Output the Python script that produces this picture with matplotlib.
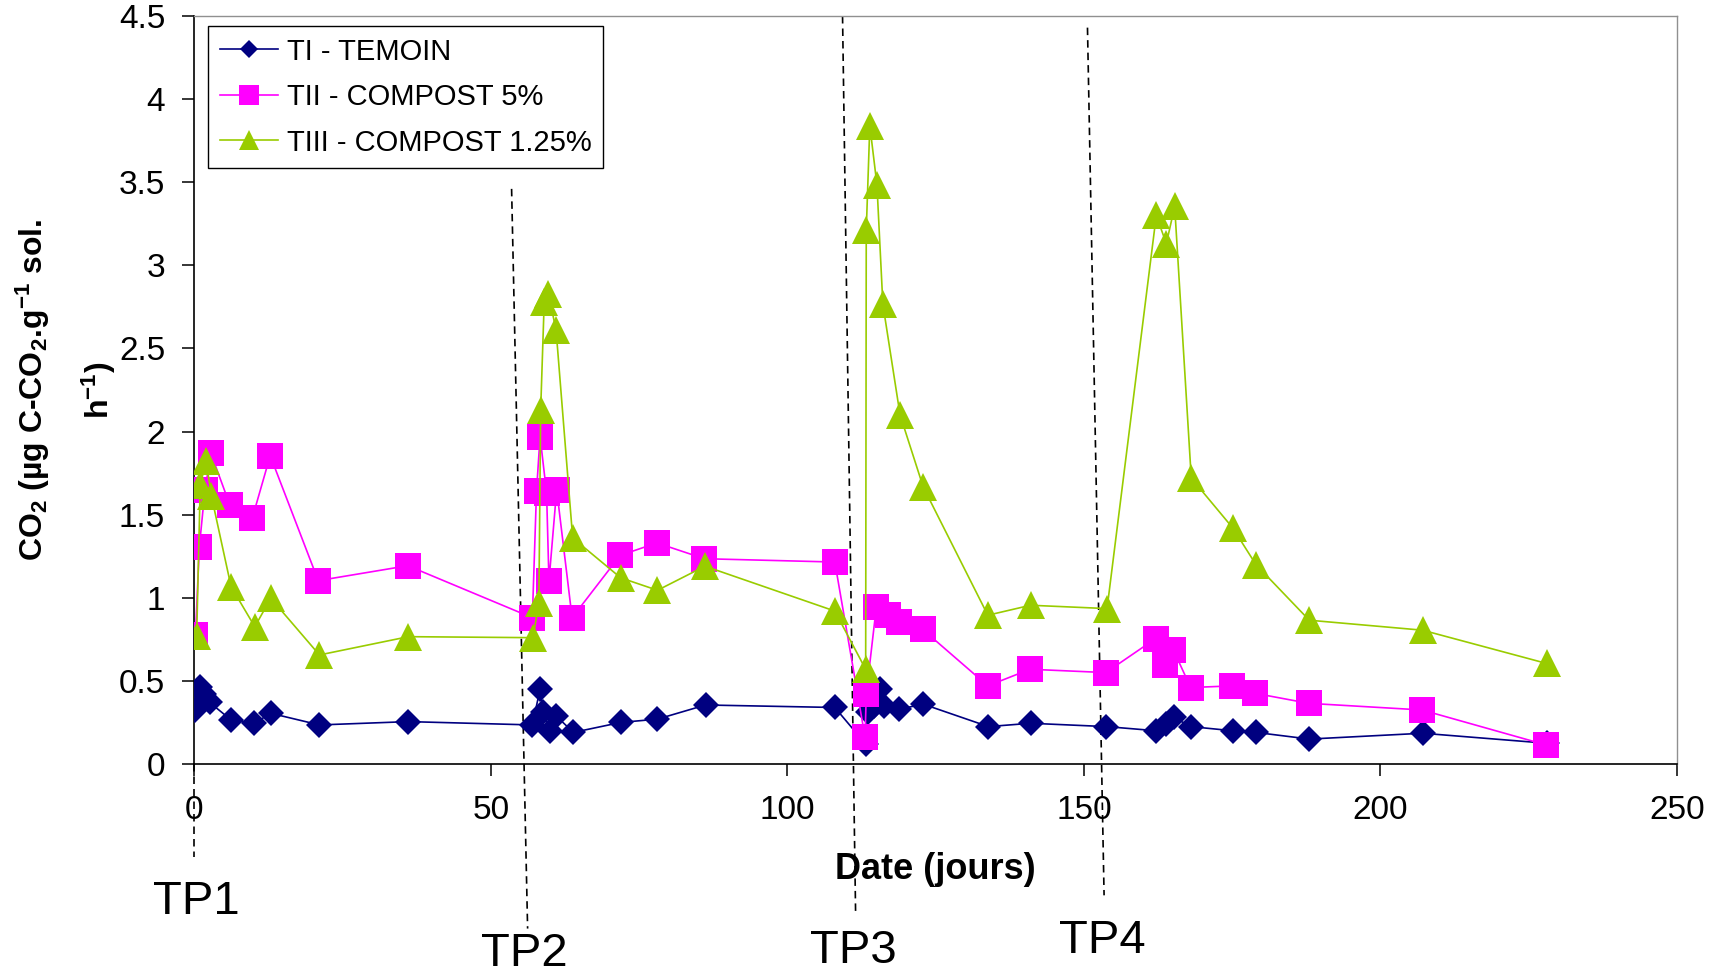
import numpy as np
import matplotlib.pyplot as plt

plt.rcParams['font.family'] = ['Liberation Sans', 'DejaVu Sans']
plt.rcParams['mathtext.fontset'] = 'custom'
plt.rcParams['mathtext.bf'] = 'Liberation Sans:bold'
plt.rcParams['mathtext.rm'] = 'Liberation Sans:bold'
plt.rcParams['mathtext.default'] = 'bf'

# TI - TEMOIN
days_t1 = [0.2, 1.0, 1.6, 2.6, 6.2, 10.1, 12.9, 21.1, 36.1, 57.0, 58.3, 58.8, 59.9, 61.0,
           63.9, 71.9, 78.1, 86.2, 108.0, 113.2, 113.6, 114.6, 115.6, 116.3, 118.9, 122.9,
           133.9, 141.0, 153.8, 162.2, 163.8, 165.2, 168.0, 175.1, 179.0, 188.0, 207.1, 228.0]
co2_t1 = [0.325, 0.465, 0.42, 0.37, 0.265, 0.245, 0.305, 0.235, 0.255, 0.235, 0.45, 0.31, 0.2, 0.29,
          0.19, 0.25, 0.27, 0.355, 0.34, 0.12, 0.31, 0.35, 0.45, 0.35, 0.33, 0.36,
          0.225, 0.245, 0.225, 0.2, 0.24, 0.28, 0.225, 0.2, 0.19, 0.15, 0.185, 0.125]

# TII - COMPOST 5%
days_t2 = [0.2, 0.85, 1.8, 2.8, 6.0, 9.8, 12.8, 20.9, 36.0, 57.0, 57.7, 58.3, 59.4, 59.8, 61.1,
           63.7, 71.8, 78.0, 86.0, 108.0, 113.1, 113.3, 115.0, 117.0, 118.9, 122.8, 133.8,
           140.9, 153.7, 162.1, 163.7, 165.1, 168.0, 175.0, 178.9, 187.9, 207.0, 227.9]
co2_t2 = [0.776, 1.307, 1.649, 1.869, 1.558, 1.482, 1.855, 1.103, 1.193, 0.88, 1.64, 1.97, 1.63, 1.10, 1.65,
          0.88, 1.255, 1.33, 1.235, 1.215, 0.16, 0.42, 0.945, 0.895, 0.855, 0.81, 0.47,
          0.57, 0.55, 0.755, 0.595, 0.685, 0.46, 0.47, 0.425, 0.365, 0.325, 0.115]

# TIII - COMPOST 1.25%
days_t3 = [0.4, 1.0, 2.0, 2.9, 6.2, 10.2, 12.9, 21.1, 36.1, 57.1, 58.1, 58.4, 59.0, 59.7, 61.0,
           63.8, 71.9, 78.1, 86.1, 108.0, 113.2, 113.3, 113.9, 115.1, 116.1, 119.0, 122.9,
           133.8, 141.0, 153.9, 162.2, 163.9, 165.3, 168.1, 175.1, 179.0, 188.0, 207.1, 228.0]
co2_t3 = [0.77, 1.68, 1.82, 1.61, 1.067, 0.826, 0.997, 0.656, 0.766, 0.76, 0.97, 2.13, 2.78, 2.83, 2.61,
          1.36, 1.12, 1.045, 1.19, 0.92, 0.57, 3.21, 3.84, 3.485, 2.766, 2.10, 1.667,
          0.895, 0.955, 0.935, 3.30, 3.13, 3.355, 1.72, 1.42, 1.20, 0.865, 0.805, 0.605]

labels = ['TI - TEMOIN', 'TII - COMPOST 5%', 'TIII - COMPOST 1.25%']

# sampling periods (dashed markers drawn below the axis)
tp_names = ['TP1', 'TP2', 'TP3', 'TP4']
tp_line_x = [(0.0, 0.0), (53.5, 56.2), (109.3, 111.5), (150.6, 153.4)]
tp_line_y = [(0.0, -0.56), (3.46, -0.99), (4.5, -0.89), (4.43, -0.79)]
tp_label_x = [0.4, 55.7, 111.2, 153.1]
tp_label_y = [-0.90, -1.215, -1.20, -1.14]

fig = plt.figure(figsize=(17.23, 9.74), dpi=100)
ax = fig.add_axes([194.3 / 1723, 1 - 764 / 974, (1677 - 194.3) / 1723, 748 / 974])

ax.plot(days_t1, co2_t1, color='#000080', lw=1.2, marker='D', ms=13, mew=0,
        label=labels[0], zorder=3)
ax.plot(days_t2, co2_t2, color='#FF00FF', lw=1.2, marker='s', ms=18.5, mew=0,
        label=labels[1], zorder=4)
ax.plot(days_t3, co2_t3, color='#99CC00', lw=1.2, marker='^', ms=19.5, mew=0,
        label=labels[2], zorder=5)

for name, lx, ly, tx, ty in zip(tp_names, tp_line_x, tp_line_y, tp_label_x, tp_label_y):
    ax.plot(lx, ly, color='black', lw=1.2, ls=(0, (4.5, 3)), clip_on=False, zorder=2)
    ax.text(tx, ty, name, fontsize=34, ha='center', va='baseline', clip_on=False)

ax.set_xlim(0, 250)
ax.set_ylim(0, 4.5)
ax.set_xticks(np.arange(0, 251, 50))
ax.set_yticks(np.arange(0, 4.51, 0.5))
ax.set_yticklabels(['0', '0.5', '1', '1.5', '2', '2.5', '3', '3.5', '4', '4.5'])

for s in ['top', 'right']:
    ax.spines[s].set_color('#909090')
    ax.spines[s].set_linewidth(1.0)
for s in ['left', 'bottom']:
    ax.spines[s].set_color('black')
    ax.spines[s].set_linewidth(1.2)

ax.tick_params(direction='out', length=8.5, width=1.1, labelsize=24)
ax.tick_params(axis='x', pad=14)
ax.tick_params(axis='y', pad=12.5)

ax.set_xlabel('Date (jours)', fontsize=26, fontweight='bold')
ax.xaxis.label.set_va('baseline')
ax.xaxis.set_label_coords(0.5, -0.154)

ax.set_ylabel('CO$_2$ (µg C-CO$_2$.g$^{-1}$ sol.\nh$^{-1}$)', fontsize=23,
              fontweight='bold', linespacing=1.95)
ax.yaxis.label.set_va('center')
ax.yaxis.set_label_coords(-0.0865, 0.5)

leg = ax.legend(loc='upper left', bbox_to_anchor=(208 / 1723, 1 - 26 / 974),
                bbox_transform=fig.transFigure, fancybox=False, edgecolor='black',
                framealpha=1, fontsize=21, markerscale=0.74, handlelength=2.0,
                handletextpad=0.3, labelspacing=0.6, borderpad=0.4, borderaxespad=0)
leg.get_frame().set_linewidth(1.0)

fig.savefig('out.png', dpi=100)
